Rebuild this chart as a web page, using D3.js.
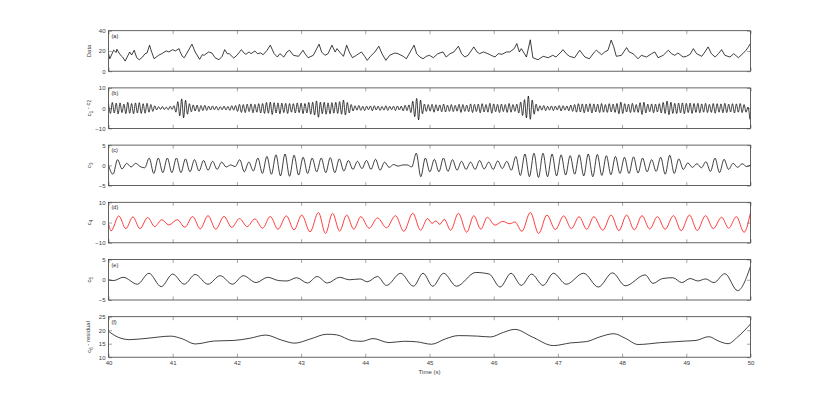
<!DOCTYPE html>
<html>
<head>
<meta charset="utf-8">
<script src="https://cdn.jsdelivr.net/npm/d3@7"></script>
<style>
  body { margin: 0; background: #fff; }
  text { font-family: "Liberation Sans", Arial, sans-serif; }
</style>
</head>
<body>
<div id="chart-container"></div>
<script>
// x axis ticks (seconds)
const timeTicks = [40, 41, 42, 43, 44, 45, 46, 47, 48, 49, 50];

// (a) raw data, read point by point [time, value]
const rawData = [
  [40.0,17.3],[40.02,12.3],[40.08,20.7],[40.12,18.5],[40.13,21.7],[40.18,16.3],[40.22,14.0],[40.26,10.0],
  [40.33,19.0],[40.36,16.0],[40.4,20.7],[40.44,13.3],[40.48,11.3],[40.53,14.0],[40.57,17.3],[40.6,18.0],
  [40.64,25.7],[40.66,21.3],[40.71,12.3],[40.78,15.7],[40.83,17.3],[40.9,20.0],[40.94,19.0],[41.0,21.3],
  [41.04,20.0],[41.1,22.3],[41.11,20.0],[41.15,14.7],[41.18,13.3],[41.3,26.7],[41.35,19.0],[41.42,11.7],
  [41.46,16.3],[41.49,15.7],[41.56,19.0],[41.61,18.0],[41.66,13.3],[41.72,11.3],[41.77,14.7],[41.81,21.3],
  [41.85,17.3],[41.88,17.3],[41.95,13.0],[42.0,15.7],[42.07,21.3],[42.11,18.0],[42.14,16.7],[42.19,19.0],
  [42.22,17.3],[42.28,20.0],[42.32,17.3],[42.37,18.0],[42.41,16.3],[42.47,20.7],[42.52,25.7],[42.58,17.3],
  [42.63,14.0],[42.67,17.3],[42.73,14.0],[42.78,19.0],[42.82,20.7],[42.88,15.7],[42.96,14.7],[43.03,20.7],
  [43.06,17.3],[43.11,13.3],[43.19,15.7],[43.28,26.7],[43.32,19.0],[43.37,15.7],[43.42,17.3],[43.48,25.7],
  [43.53,19.0],[43.56,22.3],[43.6,19.0],[43.66,14.7],[43.71,25.7],[43.75,19.0],[43.8,13.3],[43.86,15.7],
  [43.94,19.0],[43.99,14.7],[44.03,10.7],[44.08,14.7],[44.15,19.0],[44.21,24.7],[44.26,17.3],[44.32,10.7],
  [44.38,15.7],[44.46,18.0],[44.51,17.3],[44.59,14.7],[44.64,12.3],[44.7,19.0],[44.76,25.7],[44.8,17.3],
  [44.85,14.0],[44.9,12.3],[44.95,14.7],[45.0,15.7],[45.06,13.3],[45.13,17.3],[45.21,19.0],[45.26,14.0],
  [45.32,17.3],[45.38,19.0],[45.45,24.7],[45.5,17.3],[45.55,14.0],[45.6,15.7],[45.69,24.0],[45.74,19.0],
  [45.78,17.3],[45.84,19.0],[45.91,17.3],[45.96,15.7],[46.02,14.0],[46.07,17.3],[46.13,16.7],[46.2,19.0],
  [46.25,19.0],[46.32,22.3],[46.36,27.3],[46.4,19.0],[46.43,22.3],[46.51,14.0],[46.57,31.0],[46.61,13.3],
  [46.69,11.3],[46.77,14.7],[46.85,13.3],[46.92,15.7],[46.97,14.0],[47.05,19.0],[47.08,21.3],[47.13,17.3],
  [47.18,14.7],[47.26,13.3],[47.34,20.7],[47.38,17.3],[47.42,14.0],[47.49,12.3],[47.57,19.0],[47.6,20.7],
  [47.68,16.3],[47.73,19.0],[47.78,20.7],[47.83,30.7],[47.87,24.0],[47.91,14.7],[47.99,15.7],[48.07,23.3],
  [48.11,19.0],[48.17,17.3],[48.25,12.3],[48.3,15.7],[48.38,14.0],[48.46,17.3],[48.51,19.0],[48.56,13.3],
  [48.64,15.7],[48.72,20.7],[48.77,17.3],[48.82,15.7],[48.87,18.0],[48.95,14.0],[49.0,14.7],[49.06,16.7],
  [49.11,22.3],[49.16,17.3],[49.24,14.7],[49.29,19.0],[49.34,24.0],[49.39,17.3],[49.45,14.0],[49.5,17.3],
  [49.55,21.3],[49.6,15.7],[49.68,14.0],[49.74,17.3],[49.81,13.3],[49.88,17.3],[49.93,20.7],[49.96,23.3],
  [50.0,27.3]
];

// (b) c1 + c2, extrema sampled every 0.03 s from 40 s
const imf12Step = 0.03;
const imf12 = [
  2.2,-2.6,2.8,-2.4,2.5,-2.9,2.6,-2.2,2.0,-2.7,2.9,-2.5,2.3,-2.8,2.6,-2.4,2.7,-2.6,2.2,-2.5,2.4,-2.0,1.8,-1.6,1.2,
  -0.9,0.7,-0.6,0.8,-0.7,0.5,-0.8,0.9,-0.6,1.2,
  -2.0,3.2,-3.8,4.6,-4.8,3.9,-3.0,2.2,
  -1.8,1.6,-1.4,1.5,-1.7,1.3,-1.2,1.4,-1.1,1.0,
  -0.9,1.1,-0.8,0.9,-1.0,0.7,-0.8,1.0,-0.9,0.8,-1.1,1.2,-1.0,1.3,
  -1.6,1.9,-2.1,1.8,-2.2,2.0,-1.7,2.1,-2.3,1.9,-2.0,2.2,-2.4,
  2.3,-2.6,2.8,-2.5,3.0,-3.1,2.7,-2.4,2.6,-2.8,2.5,-2.2,2.4,-2.6,2.3,-2.0,2.2,
  -2.4,2.6,-2.2,2.5,-2.7,2.3,-2.4,2.8,-3.0,2.9,-3.4,3.6,-4.5,
  3.0,-2.7,2.9,-3.0,2.6,-2.8,2.7,-2.5,2.9,-2.6,
  3.2,-3.0,4.0,-3.4,2.8,-2.4,1.8,
  -1.4,1.2,-1.0,1.3,-1.1,0.9,-1.2,1.0,-0.8,1.1,-1.3,1.2,-0.9,1.0,-1.1,0.8,-1.0,1.2,-1.1,0.9,-0.8,1.0,-1.2,1.1,-0.9,1.0,-1.3,1.4,-1.2,1.6,
  -2.2,3.4,-4.2,4.8,-5.8,4.0,-2.8,2.0,
  -1.6,1.8,-1.5,1.9,-2.0,1.7,-1.4,1.6,-1.8,2.0,-1.9,1.5,-1.6,1.8,-1.7,1.4,-1.5,1.9,-2.1,1.8,-1.6,1.5,
  -1.8,2.1,-2.2,1.9,-1.7,2.0,-2.3,2.2,-1.9,1.8,-2.0,2.4,-2.5,2.1,-1.8,1.9,-2.2,2.0,-1.7,1.8,-2.1,2.3,-2.0,1.8,-1.6,2.0,
  -2.4,3.0,-3.6,4.2,-4.8,6.0,-5.5,4.0,-3.0,2.0,
  -1.5,1.2,-1.0,1.3,-1.2,0.9,-1.0,1.1,-1.2,1.0,-0.9,1.3,-1.4,1.2,-1.0,1.1,-1.3,1.5,-1.6,1.8,
  -2.0,2.2,-1.9,2.1,-2.3,2.0,-1.8,2.2,-2.4,2.1,-1.9,2.0,-2.2,2.3,-2.0,1.8,-2.1,2.2,-1.9,2.0,
  -2.1,2.3,-2.8,3.0,-2.6,2.2,-1.9,2.0,-2.2,2.4,-2.0,1.8,-2.1,2.7,-3.1,2.9,-2.4,2.0,-1.8,2.1,-2.3,2.0,-1.9,2.2,
  -2.4,2.8,-2.6,3.5,-3.2,2.9,-2.6,2.4,-2.7,2.5,-2.3,2.6,-2.8,2.4,-2.2,2.5,-2.6,2.3,-2.1,2.4,
  -2.3,2.1,-2.0,2.4,-2.2,1.9,-2.1,2.3,-2.5,2.2,-2.0,2.1,-2.3,2.4,-2.2,2.0,-1.9,2.2,-2.4,2.1,-2.0,2.3,-2.2,
  1.8,-2.0,0.5,-5.5
];

// (c) c3, extrema sampled every 0.0705 s from 40 s
const imf3Step = 0.0705;
const imf3 = [
  0.0,-2.2,1.4,-0.9,0.5,-0.4,0.5,-0.3,-0.6,1.8,
  -2.0,1.8,-1.8,1.8,-1.8,1.8,-1.8,1.6,-1.6,1.4,
  -1.4,1.2,-1.2,1.0,-1.0,0.8,-0.4,0.1,-0.3,1.4,
  -1.6,0.8,-1.4,1.8,-2.0,2.2,-2.2,2.6,-2.6,2.8,
  -2.7,2.5,-2.4,2.0,-2.0,1.8,-1.6,1.8,-1.8,1.9,
  -1.8,1.6,-1.4,1.2,-1.0,1.0,-0.8,1.2,-1.0,1.5,
  -1.2,0.8,-0.5,0.2,-0.2,0.1,0.1,-0.4,3.0,-2.8,
  1.8,-1.6,1.5,-1.6,1.8,-1.5,1.4,-1.2,1.0,-1.0,
  0.8,-1.0,1.2,-0.9,0.8,-1.0,1.1,-0.8,1.0,-1.2,
  2.2,-2.5,2.8,-2.8,3.0,-3.0,3.0,-2.8,2.8,-2.6,
  2.6,-2.4,2.4,-2.2,2.6,-2.6,2.8,-2.8,2.7,-2.5,
  2.4,-2.3,2.2,-2.0,2.0,-2.0,2.1,-1.9,1.8,-1.6,
  1.4,-1.5,2.0,-2.2,2.5,-2.0,1.6,-1.0,0.6,-0.5,
  0.4,-0.6,0.9,-1.5,1.8,-1.8,1.5,-1.0,0.5,-0.5,
  0.4,-0.3,0.2
];

// (d) c4 extrema [time, value]
const imf4 = [
  [40.0,-0.5],[40.04,-4.1],[40.16,3.3],[40.27,-3.0],[40.38,2.8],[40.49,-3.0],[40.61,2.5],[40.72,-2.0],
  [40.83,1.4],[40.94,-1.2],[41.07,1.4],[41.19,-2.3],[41.31,3.0],[41.43,-3.1],[41.55,3.4],[41.67,-3.3],
  [41.8,3.0],[41.92,-2.4],[42.04,2.0],[42.16,-2.0],[42.28,1.8],[42.4,-2.8],[42.52,3.0],[42.64,-3.3],
  [42.77,3.3],[42.89,-3.6],[43.01,3.7],[43.14,-4.6],[43.27,5.0],[43.38,-5.4],[43.49,4.6],[43.6,-4.2],
  [43.71,3.7],[43.82,-3.3],[43.93,2.9],[44.06,-2.8],[44.19,2.3],[44.33,-2.6],[44.47,3.4],[44.6,-4.3],
  [44.74,4.6],[44.86,-3.8],[44.97,2.0],[45.04,-0.4],[45.1,0.8],[45.16,-0.9],[45.23,1.6],[45.33,-3.8],
  [45.45,4.6],[45.58,-4.8],[45.69,3.4],[45.8,-3.3],[45.9,2.6],[46.02,-1.3],[46.14,0.6],[46.25,-0.6],
  [46.33,0.3],[46.44,-4.3],[46.57,5.0],[46.7,-5.4],[46.83,3.7],[46.96,-3.5],[47.09,3.3],[47.21,-3.0],
  [47.33,2.9],[47.45,-3.3],[47.56,2.9],[47.7,-3.8],[47.83,3.7],[47.95,-4.0],[48.07,3.7],[48.19,-3.6],
  [48.31,3.4],[48.43,-3.2],[48.55,2.9],[48.67,-3.3],[48.8,3.4],[48.92,-4.0],[49.05,3.7],[49.17,-3.9],
  [49.3,3.4],[49.42,-3.0],[49.55,2.6],[49.66,-2.8],[49.78,2.9],[49.9,-4.8],[50.0,5.0]
];

// (e) c5 extrema [time, value]
const imf5 = [
  [40.0,0.0],[40.08,-0.2],[40.23,0.6],[40.45,-1.1],[40.63,1.6],[40.82,-1.7],[41.0,1.4],[41.18,-1.1],
  [41.35,1.3],[41.55,-1.1],[41.74,1.0],[41.93,-1.1],[42.1,1.0],[42.3,-0.7],[42.48,0.6],[42.65,-0.2],
  [42.78,-0.3],[42.93,0.5],[43.1,-0.8],[43.25,0.8],[43.41,-0.8],[43.6,0.6],[43.75,0.0],[43.92,0.2],
  [44.03,-0.5],[44.19,0.8],[44.33,-1.4],[44.55,1.6],[44.75,-1.6],[44.9,1.6],[45.05,-1.6],[45.22,1.6],
  [45.42,-1.6],[45.72,1.8],[45.93,1.4],[46.1,-1.8],[46.27,1.6],[46.43,-1.4],[46.59,1.4],[46.77,-1.4],
  [46.93,1.6],[47.13,-1.1],[47.4,1.6],[47.63,-1.8],[47.85,1.7],[48.05,-1.5],[48.36,1.2],[48.48,-0.9],
  [48.63,0.3],[48.79,0.5],[48.93,-0.7],[49.06,0.3],[49.18,-0.3],[49.3,0.2],[49.43,-0.7],[49.6,1.5],
  [49.8,-2.7],[50.0,3.3]
];

// (f) c6 + residual [time, value]
const imf6 = [
  [40.0,19.6],[40.15,17.4],[40.33,16.5],[40.6,17.0],[40.97,17.8],[41.15,16.8],[41.35,14.9],[41.65,16.0],
  [41.95,16.2],[42.2,17.0],[42.45,18.2],[42.7,16.3],[42.9,15.2],[43.15,16.8],[43.4,18.5],[43.55,18.3],
  [43.8,16.1],[43.95,15.9],[44.12,16.9],[44.37,15.4],[44.6,15.9],[44.8,15.7],[45.03,14.8],[45.25,16.8],
  [45.45,18.0],[45.75,17.8],[45.95,17.5],[46.15,19.2],[46.33,20.3],[46.6,17.5],[46.93,14.3],[47.2,15.3],
  [47.45,15.8],[47.65,17.5],[47.87,18.7],[48.05,17.0],[48.25,14.7],[48.6,15.4],[49.0,16.0],[49.15,16.2],
  [49.35,17.6],[49.5,16.0],[49.65,15.0],[49.8,17.5],[50.0,22.3]
];

const sampled = (values, step) => values.map((v, i) => [40 + i * step, v]);

const panels = [
  {tag: '(a)', label: [['Data']], domain: [0, 40], ticks: [0, 20, 40], data: rawData, curve: d3.curveLinear, color: '#000'},
  {tag: '(b)', label: [['c'], ['1', true], [' - c'], ['2', true]], domain: [-10, 10], ticks: [-10, 0, 10], data: sampled(imf12, imf12Step), curve: d3.curveMonotoneX, color: '#000'},
  {tag: '(c)', label: [['c'], ['3', true]], domain: [-5, 5], ticks: [-5, 0, 5], data: sampled(imf3, imf3Step), curve: d3.curveMonotoneX, color: '#000'},
  {tag: '(d)', label: [['c'], ['4', true]], domain: [-10, 10], ticks: [-10, 0, 10], data: imf4, curve: d3.curveMonotoneX, color: '#ff0000'},
  {tag: '(e)', label: [['c'], ['5', true]], domain: [-5, 5], ticks: [-5, 0, 5], data: imf5, curve: d3.curveMonotoneX, color: '#000'},
  {tag: '(f)', label: [['c'], ['6', true], [' - residual']], domain: [10, 25], ticks: [10, 15, 20, 25], data: imf6, curve: d3.curveMonotoneX, color: '#000'}
];

const options = {
  width: 830,
  height: 402,
  left: 108.5,
  right: 750.5,
  top: 30.7,
  step: 57.2,
  innerHeight: 40.5,
  tickLen: 3.5,
  fontSize: 6
};

const svg = d3.select('#chart-container').append('svg')
  .attr('width', options.width)
  .attr('height', options.height);

const x = d3.scaleLinear()
  .domain([40, 50])
  .range([0, options.right - options.left]);
const innerWidth = options.right - options.left;

panels.forEach((p, index) => {
  const top = options.top + index * options.step;
  const y = d3.scaleLinear()
    .domain(p.domain)
    .range([options.innerHeight, 0]);

  const g = svg.append('g')
    .attr('transform', 'translate(' + options.left + ',' + top + ')');

  g.append('clipPath')
    .attr('id', 'clip-' + index)
    .append('rect')
    .attr('width', innerWidth)
    .attr('height', options.innerHeight);

  //inward ticks on all four sides
  const styleAxis = sel => {
    sel.select('.domain').remove();
    sel.selectAll('.tick line').attr('stroke', '#9a9a9a').attr('stroke-width', 0.9);
    sel.selectAll('.tick text')
      .attr('fill', '#3a3a3a')
      .style('font-size', options.fontSize + 'px');
  };
  g.append('g')
    .call(d3.axisLeft(y).tickValues(p.ticks).tickSize(-options.tickLen).tickPadding(3))
    .call(styleAxis);
  g.append('g')
    .attr('transform', 'translate(' + innerWidth + ',0)')
    .call(d3.axisRight(y).tickValues(p.ticks).tickSize(-options.tickLen).tickFormat(''))
    .call(styleAxis);
  g.append('g')
    .call(d3.axisTop(x).tickValues(timeTicks).tickSize(-options.tickLen).tickFormat(''))
    .call(styleAxis);
  const last = index === panels.length - 1;
  g.append('g')
    .attr('transform', 'translate(0,' + options.innerHeight + ')')
    .call(d3.axisBottom(x).tickValues(timeTicks).tickSize(-options.tickLen).tickPadding(4)
      .tickFormat(last ? d3.format('d') : ''))
    .call(styleAxis);

  //signal
  const line = d3.line()
    .x(d => x(d[0]))
    .y(d => y(d[1]))
    .curve(p.curve);
  g.append('path')
    .attr('clip-path', 'url(#clip-' + index + ')')
    .attr('fill', 'none')
    .attr('stroke', p.color)
    .attr('stroke-width', 0.75)
    .attr('stroke-linejoin', 'round')
    .attr('d', line(p.data));

  //box
  g.append('rect')
    .attr('width', innerWidth)
    .attr('height', options.innerHeight)
    .attr('fill', 'none')
    .attr('stroke', '#3c3c3c')
    .attr('stroke-width', 0.8);

  //panel tag
  g.append('text')
    .attr('x', 3)
    .attr('y', 7)
    .attr('fill', '#222')
    .style('font-size', '5.5px')
    .text(p.tag);

  //y label, rotated, with subscripts
  const lab = g.append('text')
    .attr('transform', 'translate(' + (91 - options.left) + ',' + (options.innerHeight / 2) + ') rotate(-90)')
    .attr('text-anchor', 'middle')
    .attr('fill', '#3a3a3a')
    .style('font-size', options.fontSize + 'px');
  let shifted = false;
  p.label.forEach(([t, sub]) => {
    const ts = lab.append('tspan').text(t);
    if (sub && !shifted) { ts.attr('dy', '0.35em').style('font-size', '4.5px'); shifted = true; }
    else if (!sub && shifted) { ts.attr('dy', '-0.45em'); shifted = false; }
    else if (sub) { ts.style('font-size', '4.5px'); }
  });
});

svg.append('text')
  .attr('x', (options.left + options.right) / 2)
  .attr('y', options.top + 5 * options.step + options.innerHeight + 17)
  .attr('text-anchor', 'middle')
  .attr('fill', '#3a3a3a')
  .style('font-size', options.fontSize + 'px')
  .text('Time (s)');
</script>
</body>
</html>
